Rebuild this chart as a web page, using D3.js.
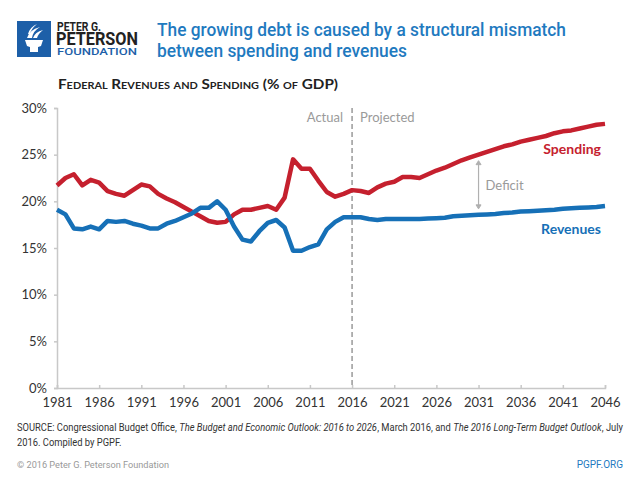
<!DOCTYPE html>
<html><head><meta charset="utf-8">
<script src="https://cdn.jsdelivr.net/npm/d3@7"></script>
<style>
html,body{margin:0;padding:0;background:#fff;}
svg{display:block;font-family:Lato,"Open Sans",sans-serif;}
</style></head>
<body><svg id="c" width="640" height="480"></svg>
<script>
const years = [1981,1982,1983,1984,1985,1986,1987,1988,1989,1990,1991,1992,1993,1994,1995,1996,1997,1998,1999,2000,
2001,2002,2003,2004,2005,2006,2007,2008,2009,2010,2011,2012,2013,2014,2015,2016,2017,2018,2019,2020,
2021,2022,2023,2024,2025,2026,2027,2028,2029,2030,2031,2032,2033,2034,2035,2036,2037,2038,2039,2040,
2041,2042,2043,2044,2045,2046];
const spending = [21.7,22.5,22.9,21.7,22.3,22.0,21.1,20.8,20.6,21.2,21.8,21.6,20.8,20.3,19.9,19.4,18.9,18.4,17.9,17.7,
17.8,18.6,19.1,19.1,19.3,19.5,19.1,20.4,24.5,23.5,23.5,22.2,21.0,20.5,20.8,21.2,21.1,20.9,21.5,21.9,
22.1,22.6,22.6,22.5,22.9,23.3,23.6,24.0,24.4,24.7,25.0,25.3,25.6,25.9,26.1,26.4,26.6,26.8,27.0,27.3,
27.5,27.6,27.8,28.0,28.2,28.3];
const revenues = [19.1,18.6,17.1,17.0,17.3,17.0,17.9,17.8,17.9,17.6,17.4,17.1,17.1,17.6,17.9,18.3,18.7,19.3,19.3,20.0,
19.1,17.3,15.9,15.7,16.8,17.7,18.0,17.2,14.7,14.7,15.1,15.4,17.0,17.8,18.3,18.3,18.3,18.1,18.0,18.1,
18.1,18.1,18.1,18.1,18.15,18.2,18.25,18.4,18.45,18.5,18.55,18.6,18.65,18.75,18.8,18.9,18.95,19.0,19.05,19.1,
19.2,19.25,19.3,19.35,19.4,19.5];
const xTicks = [1981,1986,1991,1996,2001,2006,2011,2016,2021,2026,2031,2036,2041,2046];
const yTicks = [0,5,10,15,20,25,30];
const splitYear = 2016;
const deficitYear = 2031;

const svg = d3.select("#c");
const x = d3.scaleLinear().domain([1981,2046]).range([57,605]);
const y = d3.scaleLinear().domain([0,30]).range([388,108]);
const RED = "#c5202e", BLUE = "#1670b7", GRAY = "#9a9a9a";

// Header logo
const logo = svg.append("g");
logo.append("rect").attr("x",17).attr("y",21).attr("width",34).attr("height",36).attr("fill","#1d5fa8");
logo.append("path").attr("d","M25 40 L43 40 L41 46 Q34 49 27 46 Z").attr("fill","#fff");
logo.append("rect").attr("x",30).attr("y",47).attr("width",8).attr("height",5).attr("fill","#fff");
logo.append("path").attr("d","M27 38 Q29 30 40 27 Q33 31 32 38 Z").attr("fill","#fff");
logo.append("path").attr("d","M33 38 Q35 32 43 30 Q38 34 37 38 Z").attr("fill","#fff");
logo.append("path").attr("d","M28 34 Q30 27 37 24 Q31 29 30 34 Z").attr("fill","#fff");

// logo words, drawn with a vertical stretch so the font boxes stay apart
function logoWord(txt, x0, base, size, sy, w, opts){
  const g = svg.append("g").attr("transform",`translate(${x0},${base}) scale(1,${sy})`);
  const t = g.append("text").attr("x",0).attr("y",0).text(txt)
    .attr("font-family","Roboto").attr("font-size",size)
    .attr("textLength",w).attr("lengthAdjust","spacingAndGlyphs");
  Object.entries(opts).forEach(([k,v])=>t.attr(k,v));
  return t;
}
logoWord("PETER G.",57,31,9.5,1.25,44,{"font-weight":700,"fill":"#222"});
logoWord("PETERSON",56,45,13.5,1.3,82,{"font-weight":700,"fill":"#222"});
logoWord("FOUNDATION",57,55,8,1.05,80,{"font-weight":500,"fill":"#1d5fa8"});

// Title
const title = svg.append("g").attr("font-family","Roboto").attr("font-weight",500).attr("font-size",19).attr("fill","#1f7abf");
title.append("text").attr("x",157).attr("y",36).text("The growing debt is caused by a structural mismatch")
  .attr("textLength",409).attr("lengthAdjust","spacingAndGlyphs");
title.append("text").attr("x",157).attr("y",57).text("between spending and revenues")
  .attr("textLength",250).attr("lengthAdjust","spacingAndGlyphs");

// Subtitle (small caps)
svg.append("text").attr("x",58).attr("y",89).text("Federal Revenues and Spending (% of GDP)")
  .attr("font-family","Lato").attr("font-weight",700).attr("font-size",14).attr("font-variant","small-caps")
  .attr("fill","#222").attr("textLength",280).attr("lengthAdjust","spacingAndGlyphs");

// Axes
const axisColor = "#c8c8c8";
const yAxis = svg.append("g").attr("transform","translate(57,0)")
  .call(d3.axisLeft(y).tickValues(yTicks).tickSize(3).tickPadding(7).tickFormat(d=>d+"%"));
const xAxis = svg.append("g").attr("transform","translate(0,388)")
  .call(d3.axisBottom(x).tickValues(xTicks).tickSize(-3).tickPadding(10).tickFormat(d3.format("d")));
[yAxis,xAxis].forEach(a=>{
  a.selectAll(".domain").attr("stroke",axisColor).attr("stroke-width",1.5);
  a.selectAll(".tick line").attr("stroke",axisColor).attr("stroke-width",1.5);
  a.selectAll("text").attr("font-family","Lato").attr("font-size",13).attr("fill","#333");
});

// Split line
svg.append("line").attr("x1",x(splitYear)).attr("x2",x(splitYear)).attr("y1",108).attr("y2",388)
  .attr("stroke",GRAY).attr("stroke-width",1.5).attr("stroke-dasharray","5,3");
svg.append("text").attr("x",x(splitYear)-9).attr("y",122).attr("text-anchor","end").text("Actual")
  .attr("font-family","Lato").attr("font-size",13).attr("fill",GRAY);
svg.append("text").attr("x",x(splitYear)+8).attr("y",122).text("Projected")
  .attr("font-family","Lato").attr("font-size",13).attr("fill",GRAY);

// Lines
const line = d3.line().x((d,i)=>x(years[i])).y(d=>y(d));
svg.append("path").datum(spending).attr("d",line).attr("fill","none").attr("stroke",RED)
  .attr("stroke-width",4.5).attr("stroke-linejoin","round");
svg.append("path").datum(revenues).attr("d",line).attr("fill","none").attr("stroke",BLUE)
  .attr("stroke-width",4.5).attr("stroke-linejoin","round");

// Labels
svg.append("text").attr("x",601).attr("y",154).attr("text-anchor","end").text("Spending")
  .attr("font-family","Lato").attr("font-weight",700).attr("font-size",14).attr("fill",RED);
svg.append("text").attr("x",601).attr("y",234).attr("text-anchor","end").text("Revenues")
  .attr("font-family","Lato").attr("font-weight",700).attr("font-size",14).attr("fill",BLUE);

// Deficit arrow
const di = years.indexOf(deficitYear);
const ax = x(deficitYear);
const aTop = y(spending[di]) + 6, aBot = y(revenues[di]) - 6;
const ag = svg.append("g").attr("stroke","#b0b0b0").attr("fill","#b0b0b0");
ag.append("line").attr("x1",ax).attr("x2",ax).attr("y1",aTop+3).attr("y2",aBot-3).attr("stroke-width",1.2);
ag.append("path").attr("d",`M${ax-2.5},${aTop+4} L${ax},${aTop} L${ax+2.5},${aTop+4} Z`);
ag.append("path").attr("d",`M${ax-2.5},${aBot-4} L${ax},${aBot} L${ax+2.5},${aBot-4} Z`);
svg.append("text").attr("x",ax+7).attr("y",190).text("Deficit")
  .attr("font-family","Lato").attr("font-size",13).attr("fill",GRAY);

// Source: segments laid out one after another, then the whole line scaled to fit
const srcG = svg.append("g");
const segs = [
  ["SOURCE: Congressional Budget Office, ","normal"],
  ["The Budget and Economic Outlook: 2016 to 2026","italic"],
  [", March 2016, and ","normal"],
  ["The 2016 Long-Term Budget Outlook","italic"],
  [", July","normal"]
];
let cx = 0;
segs.forEach(([t,st])=>{
  const el = srcG.append("text").attr("x",cx).attr("y",0).attr("font-family","Roboto").attr("font-size",10)
    .attr("fill","#333").attr("font-style",st).attr("xml:space","preserve").style("white-space","pre").text(t);
  cx += el.node().getComputedTextLength();
});
const sx = 606/cx;
srcG.attr("transform",`translate(17,431) scale(${sx},1)`);
const src2 = svg.append("g").attr("transform",`translate(17,446) scale(${sx},1)`);
src2.append("text").attr("x",0).attr("y",0).attr("font-family","Roboto").attr("font-size",10).attr("fill","#333")
  .text("2016. Compiled by PGPF.");

svg.append("text").attr("x",17).attr("y",468).attr("font-family","Roboto").attr("font-size",9.5).attr("fill","#999")
  .text("© 2016 Peter G. Peterson Foundation").attr("textLength",152).attr("lengthAdjust","spacingAndGlyphs");
svg.append("text").attr("x",623).attr("y",468).attr("text-anchor","end").attr("font-family","Roboto").attr("font-size",10).attr("fill","#1f7abf")
  .text("PGPF.ORG");
</script></body></html>
